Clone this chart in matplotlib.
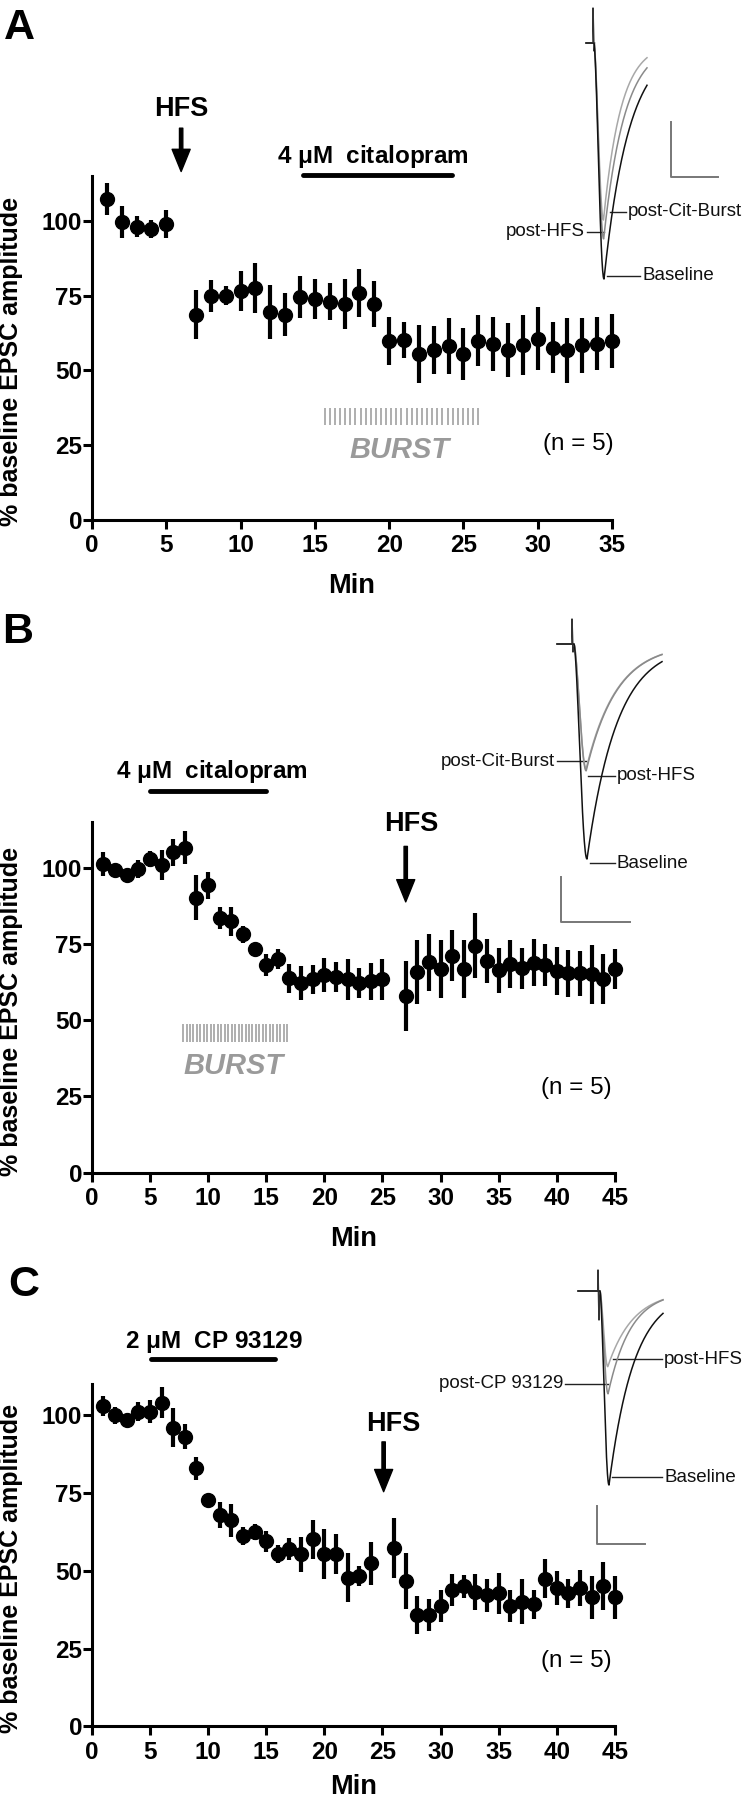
import numpy as np
import matplotlib
matplotlib.use("Agg")
import matplotlib.pyplot as plt

plt.rcParams['font.family'] = ['Liberation Sans', 'DejaVu Sans']

# ---------------- data ----------------
a_min = [1, 2, 3, 4, 5, 7, 8, 9, 10, 11, 12, 13, 14, 15, 16, 17, 18, 19, 20, 21, 22, 23, 24,
         25, 26, 27, 28, 29, 30, 31, 32, 33, 34, 35]
a_mean = [107.3, 99.6, 98.0, 97.3, 99.0, 68.6, 74.9, 74.9, 76.6, 77.6, 69.5, 68.6, 74.6, 73.8,
          73.0, 72.1, 75.9, 72.1, 59.9, 60.2, 55.4, 56.7, 58.0, 55.4, 59.9, 58.9, 56.7, 58.4,
          60.6, 57.6, 56.7, 58.3, 58.9, 59.7]
a_sem = [5.4, 5.3, 3.5, 3.0, 4.7, 8.3, 5.3, 3.2, 6.7, 8.3, 9.0, 7.2, 7.0, 6.7, 6.3, 8.3, 8.0,
         7.7, 8.0, 6.0, 9.7, 8.0, 9.4, 8.6, 8.5, 9.0, 9.0, 10.0, 10.5, 8.5, 10.8, 9.3, 8.8, 9.0]

b_min = [1, 2, 3, 4, 5, 6, 7, 8, 9, 10, 11, 12, 13, 14, 15, 16, 17, 18, 19, 20, 21, 22, 23, 24,
         25, 27, 28, 29, 30, 31, 32, 33, 34, 35, 36, 37, 38, 39, 40, 41, 42, 43, 44, 45]
b_mean = [101.2, 99.2, 97.6, 99.6, 102.9, 100.9, 105.0, 106.6, 90.2, 94.2, 83.5, 82.4, 78.1,
          73.5, 68.1, 70.1, 63.7, 62.1, 63.4, 64.7, 64.1, 63.4, 62.1, 62.7, 63.4, 58.0, 65.8,
          69.0, 66.8, 71.2, 66.8, 74.4, 69.4, 66.4, 68.5, 67.0, 68.8, 68.1, 66.1, 65.4, 65.4,
          65.0, 63.4, 66.8]
b_sem = [3.8, 1.0, 1.0, 3.0, 2.5, 5.0, 4.5, 5.4, 7.4, 4.5, 3.6, 4.7, 2.8, 1.0, 3.7, 3.4, 4.7,
         5.6, 4.8, 5.6, 5.0, 6.7, 4.9, 6.2, 6.7, 11.4, 10.6, 9.4, 9.4, 8.4, 9.4, 10.6, 7.2, 7.4,
         7.8, 6.7, 7.7, 6.8, 8.0, 7.7, 7.4, 9.8, 8.2, 6.5]

c_min = [1, 2, 3, 4, 5, 6, 7, 8, 9, 10, 11, 12, 13, 14, 15, 16, 17, 18, 19, 20, 21, 22, 23, 24,
         26, 27, 28, 29, 30, 31, 32, 33, 34, 35, 36, 37, 38, 39, 40, 41, 42, 43, 44, 45]
c_mean = [102.9, 100.0, 98.3, 101.1, 101.1, 104.0, 96.0, 93.1, 83.0, 72.7, 67.9, 66.2, 61.2,
          62.4, 59.5, 55.3, 57.0, 55.3, 60.1, 55.3, 55.3, 47.8, 48.4, 52.4, 57.3, 46.7, 35.8,
          35.8, 38.6, 43.8, 45.0, 43.2, 42.1, 42.7, 38.6, 40.1, 39.2, 47.5, 44.4, 42.7, 44.4,
          41.5, 45.0, 41.5]
c_sem = [3.3, 2.7, 1.0, 3.1, 3.6, 5.0, 6.2, 4.0, 3.7, 1.0, 4.3, 5.2, 2.9, 2.6, 3.4, 2.9, 3.4,
         5.6, 6.3, 8.0, 6.4, 7.9, 3.2, 6.9, 9.7, 8.9, 6.0, 5.2, 5.2, 5.2, 3.7, 5.7, 5.2, 6.6,
         5.2, 7.2, 4.6, 6.3, 5.4, 4.6, 5.7, 6.9, 7.7, 6.9]

yticks = [0, 25, 50, 75, 100]
a_xticks = [0, 5, 10, 15, 20, 25, 30, 35]
bc_xticks = [0, 5, 10, 15, 20, 25, 30, 35, 40, 45]

# inset trace peak amplitudes (relative to baseline) and decay constants
a_trace_names = ['Baseline', 'post-HFS', 'post-Cit-Burst']
a_trace_amp = [1.00, 0.83, 0.75]
a_trace_tau = [25.0, 21.0, 17.5]
b_trace_names = ['Baseline', 'post-HFS', 'post-Cit-Burst']
b_trace_amp = [1.00, 0.59, 0.58]
b_trace_tau = [30.0, 30.5, 30.5]
c_trace_names = ['Baseline', 'post-CP 93129', 'post-HFS']
c_trace_amp = [1.00, 0.53, 0.39]
c_trace_tau = [25.0, 22.5, 25.5]

# ---------------- figure ----------------
W, H = 746, 1800
fig = plt.figure(figsize=(W / 100, H / 100), dpi=100)


def px_axes(left, right, y0px, ytop_px):
    return fig.add_axes([left / W, 1 - y0px / H, (right - left) / W, (y0px - ytop_px) / H])


def style(ax, xmax, ymax, xticks, xlab_y):
    ax.set_xlim(0, xmax)
    ax.set_ylim(0, ymax)
    for s in ['top', 'right']:
        ax.spines[s].set_visible(False)
    for s in ['left', 'bottom']:
        ax.spines[s].set_linewidth(2.2)
    ax.set_xticks(xticks)
    ax.set_yticks(yticks)
    ax.tick_params(width=2.2, length=6.5, labelsize=17.5)
    ax.tick_params(axis='y', pad=0.5)
    ax.tick_params(axis='x', pad=4)
    for lab in ax.get_xticklabels() + ax.get_yticklabels():
        lab.set_fontweight('bold')
    ax.set_xlabel('Min', fontsize=19.5, fontweight='bold')
    ax.set_ylabel('% baseline EPSC amplitude', fontsize=18, fontweight='bold')
    ax.yaxis.set_label_coords(-0.132, 0.46)
    ax.xaxis.set_label_coords(0.5, xlab_y)


def data(ax, x, m, s):
    ax.errorbar(x, m, yerr=s, fmt='o', color='black', ms=10, elinewidth=3.0, capsize=0,
                clip_on=False, zorder=3)


def arrow(ax, x, ytop, ybot):
    ax.annotate('', xy=(x, ybot), xytext=(x, ytop), annotation_clip=False,
                arrowprops=dict(facecolor='black', edgecolor='black', width=2.4,
                                headwidth=13, headlength=16, shrink=0))


def burst(ax, x0, x1, y0, y1, tx, ty):
    xs = np.linspace(x0, x1, 31)
    ax.vlines(xs, y0, y1, colors='#999999', lw=1.1, clip_on=False)
    ax.text(tx, ty, 'BURST', color='#9a9a9a', fontsize=21, fontweight='bold', style='italic',
            ha='center', va='center', clip_on=False)


def drug(ax, label, x0, x1, ybar, tx, ty):
    ax.plot([x0, x1], [ybar, ybar], color='black', lw=3.5, solid_capstyle='round', clip_on=False)
    ax.text(tx, ty, label, fontsize=17.5, fontweight='bold', ha='center', va='center', clip_on=False)


# Panel A
axA = px_axes(92, 612, 519.7, 176)
style(axA, 35, 115, a_xticks, -0.155)
data(axA, a_min, a_mean, a_sem)
axA.text(6, 137.4, 'HFS', fontsize=19.5, fontweight='bold', ha='center', va='center')
arrow(axA, 6, 131, 116.5)
drug(axA, r'4 $\mathregular{\mu}$M  citalopram', 14.2, 24.2, 115.2, 18.9, 121.5)
burst(axA, 15.66, 26.0, 31.7, 37.5, 20.7, 23.4)
axA.text(32.7, 25.4, '(n = 5)', fontsize=17.5, ha='center', va='center')

# Panel B
axB = px_axes(91.8, 615, 1172.6, 822)
style(axB, 45, 115, bc_xticks, -0.151)
data(axB, b_min, b_mean, b_sem)
axB.text(27.5, 114.3, 'HFS', fontsize=19.5, fontweight='bold', ha='center', va='center')
arrow(axB, 27, 107, 88.8)
drug(axB, r'4 $\mathregular{\mu}$M  citalopram', 5.0, 15.0, 125.3, 10.3, 131.7)
burst(axB, 7.85, 16.8, 43.0, 48.9, 12.15, 35.0)
axB.text(41.7, 27.9, '(n = 5)', fontsize=17.5, ha='center', va='center')

# Panel C
axC = px_axes(91.8, 615, 1726.4, 1384)
style(axC, 45, 110, bc_xticks, -0.138)
data(axC, c_min, c_mean, c_sem)
axC.text(25.9, 97.1, 'HFS', fontsize=19.5, fontweight='bold', ha='center', va='center')
arrow(axC, 25.1, 91.4, 75.4)
drug(axC, r'2 $\mathregular{\mu}$M  CP 93129', 5.1, 15.75, 118.1, 10.5, 123.5)
axC.text(41.7, 21.0, '(n = 5)', fontsize=17.5, ha='center', va='center')

# ---------------- overlay (pixel coordinates) for insets & panel letters ----------------
ov = fig.add_axes([0, 0, 1, 1], zorder=10)
ov.set_xlim(0, W)
ov.set_ylim(H, 0)
ov.axis('off')
ov.patch.set_alpha(0)

for letter, (lx, ly) in zip(['A', 'B', 'C'], [(4, 28), (2, 632), (8, 1285)]):
    ov.text(lx, ly, letter, fontsize=31, fontweight='bold', ha='left', va='center')

trace_cols = ['#111111', '#8a8a8a', '#a8a8a8']


def trace(x_start, x_stim, stim_top, x_on, x_pk, x_end, base, amp_px, rel, taus, stim_bot=None):
    for i, (r, tau) in enumerate(zip(rel, taus)):
        col = trace_cols[i]
        amp = amp_px * r
        xpk = x_pk - (1 - r) * 2
        t1 = np.linspace(x_on, xpk, 30)
        y1 = base + amp * np.sin(0.5 * np.pi * (t1 - x_on) / (xpk - x_on)) ** 1.6
        t2 = np.linspace(xpk, x_end, 120)
        y2 = base + amp * np.exp(-(t2 - xpk) / tau)
        xs = np.concatenate([[x_start, x_stim - 0.5], t1, t2])
        ys = np.concatenate([[base, base], y1, y2])
        ov.plot(xs, ys, color=col, lw=1.1, zorder=5 - i)
    sb = stim_bot if stim_bot is not None else base + 8
    ov.plot([x_stim, x_stim, x_stim + 1, x_stim + 1.5], [base, stim_top, sb, base],
            color='#333333', lw=1.1)


def leader(x0, x1, y, text, side):
    ov.plot([x0, x1], [y, y], color='#222222', lw=1.0)
    if side == 'right':
        ov.text(x1 + 2, y, text, fontsize=13.5, ha='left', va='center', color='#111111')
    else:
        ov.text(x0 - 2, y, text, fontsize=13.5, ha='right', va='center', color='#111111')


def scalebar(x, ytop, ybot, xr):
    ov.plot([x, x, xr], [ytop, ybot, ybot], color='#777777', lw=1.4)


# inset A
trace(586, 593, 8, 594, 604, 647, 43, 236, a_trace_amp, a_trace_tau)
leader(610, 626, 212, 'post-Cit-Burst', 'right')
leader(587, 604, 232, 'post-HFS', 'left')
leader(607, 640, 276, 'Baseline', 'right')
scalebar(671, 122, 177, 718)

# inset B
trace(557, 572, 619, 574, 587, 662, 644, 215, b_trace_amp, b_trace_tau)
leader(557, 586, 761, 'post-Cit-Burst', 'left')
leader(588, 615, 776, 'post-HFS', 'right')
leader(590, 615, 863, 'Baseline', 'right')
scalebar(561, 877, 921.6, 630)

# inset C
trace(578, 598, 1270, 600, 609, 663, 1291, 194, c_trace_amp, c_trace_tau, stim_bot=1320)
leader(613, 662, 1359, 'post-HFS', 'right')
leader(565, 608, 1384, 'post-CP 93129', 'left')
leader(612, 662, 1477, 'Baseline', 'right')
scalebar(597, 1506, 1544, 645)

fig.savefig('out.png', dpi=100)
